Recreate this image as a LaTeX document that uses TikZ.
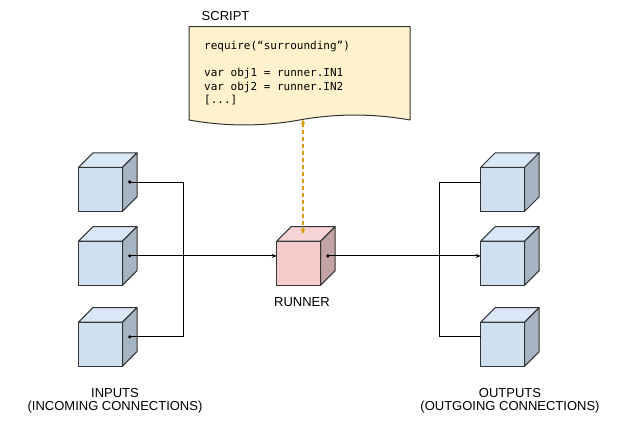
\documentclass[tikz,border=0pt]{standalone}
\usepackage{fontspec}
\setmainfont{Liberation Sans}
\newfontfamily\codefont{DejaVu Sans Mono}
\usetikzlibrary{arrows.meta,calc}

\definecolor{linegray}{HTML}{333333}
\definecolor{bluefront}{HTML}{CFE0F1}
\definecolor{bluetop}{HTML}{D9E7F6}
\definecolor{blueside}{HTML}{A6B4C3}
\definecolor{redfront}{HTML}{F4CCCC}
\definecolor{redtop}{HTML}{F6D4D4}
\definecolor{redside}{HTML}{C4A3A3}
\definecolor{docfill}{HTML}{FFF2CC}
\definecolor{dashorange}{HTML}{D79B00}

\tikzset{
  cubeline/.style={draw=linegray, line width=1pt, line join=round},
  cube/.style={cubeline, fill=#1, minimum size=44pt, inner sep=0pt, outer sep=0pt},
  wire/.style={draw=black, line width=1pt},
  wiredot/.style={fill=black, radius=1.8pt},
  tip/.style={-{Stealth[length=5pt, width=4pt]}},
  label/.style={font=\fontsize{13}{12.5}\selectfont, align=center, inner sep=0pt}
}

% top and side face of a cube whose front face is node #1
\newcommand{\cubeback}[3]{%
  \draw [cubeline, fill=#2] (#1.north west) -- ++(14.5,-14.5) -- ++(44,0) -- (#1.north east) -- cycle;
  \draw [cubeline, fill=#3] (#1.north east) -- ++(14.5,-14.5) -- ++(0,44) -- (#1.south east) -- cycle;
  \coordinate (#1side) at ($(#1.east)+(7.25,-7.25)$);
  \coordinate (#1top) at ($(#1.north)+(7.25,-7.25)$);
}

\begin{document}
\begin{tikzpicture}[x=1pt, y=-1pt]
  \useasboundingbox (0,0) rectangle (641,427);

  % script document
  \coordinate (doctl) at (189,26.7);
  \coordinate (docbot) at (303,119.5);
  \draw [cubeline, fill=docfill] (doctl) -- (410,26.7) -- (410,120)
    .. controls (373.2,113.4) and (336.3,113.4) .. (299.5,120)
    .. controls (262.7,126.6) and (225.8,126.6) .. (189,120) -- cycle;
  \node [label, anchor=west] (scriptlbl) at (201.5,16) {SCRIPT};
  \node [anchor=north west, inner sep=0pt, align=left,
    font=\codefont\fontsize{11}{13.5}\selectfont] (code) at (204,41)
    {require(“surrounding”)\\[13.5pt]
     var obj1 = runner.IN1\\
     var obj2 = runner.IN2\\
     {[...]}};

  % inputs
  \node [cube=bluefront] (in1) at (100.5,189.3) {};
  \node [cube=bluefront] (in2) at (100.5,263.2) {};
  \node [cube=bluefront] (in3) at (100.5,344.2) {};
  \cubeback{in1}{bluetop}{blueside}
  \cubeback{in2}{bluetop}{blueside}
  \cubeback{in3}{bluetop}{blueside}

  % runner
  \node [cube=redfront] (runner) at (298.7,263.2) {};
  \cubeback{runner}{redtop}{redside}

  % outputs
  \node [cube=bluefront] (out1) at (502.7,189.3) {};
  \node [cube=bluefront] (out2) at (502.7,263.2) {};
  \node [cube=bluefront] (out3) at (502.7,344.2) {};
  \cubeback{out1}{bluetop}{blueside}
  \cubeback{out2}{bluetop}{blueside}
  \cubeback{out3}{bluetop}{blueside}

  % connections
  \coordinate (lbus) at (183.7,263);
  \coordinate (rbus) at (439.3,263);
  \draw [wire] (in1side) -| (lbus) |- (in3side);
  \draw [wire, tip] (in2side) -- (in2side -| runner.west);
  \draw [wire, tip] (runnerside) -- (runnerside -| out2.west);
  \draw [wire] (out1.west |- in1side) -| (rbus) |- (out3.west |- in3side);
  \fill [wiredot] (in1side) circle;
  \fill [wiredot] (in2side) circle;
  \fill [wiredot] (in3side) circle;
  \fill [wiredot] (runnerside) circle;

  \draw [dashorange, line width=1.1pt, dash pattern=on 4pt off 3pt,
    {Stealth[length=5pt, width=4.5pt]}-{Stealth[length=5pt, width=4.5pt]}]
    (docbot) -- (docbot |- runnertop);

  % labels
  \node [label] (runnerlbl) at (302,301.7) {RUNNER};
  \node [label] (inlbl) at (115,401) {INPUTS\\(INCOMING CONNECTIONS)};
  \node [label] (outlbl) at (510,401) {OUTPUTS\\(OUTGOING CONNECTIONS)};
\end{tikzpicture}
\end{document}
